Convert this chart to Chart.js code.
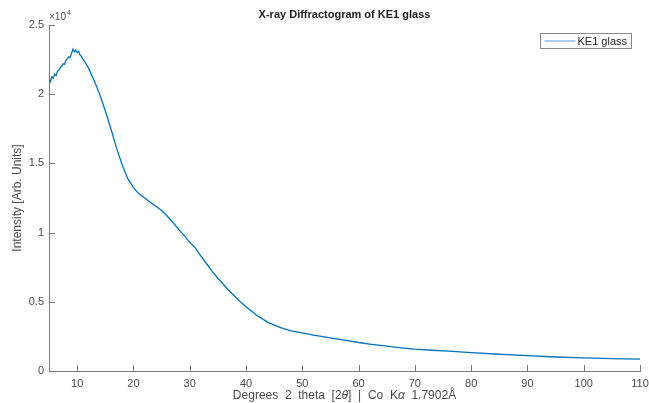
<!DOCTYPE html>
<html>
<head>
<meta charset="utf-8">
<script src="https://cdn.jsdelivr.net/npm/chart.js@4"></script>
<style>
  html, body { margin: 0; padding: 0; background: #fff; }
  #wrap { width: 649px; height: 403px; }
</style>
</head>
<body>
<div id="wrap"><canvas id="xrd" width="649" height="403"></canvas></div>
<script>
// 2 theta (degrees) and intensity (counts)
const twoTheta = [5, 5.25, 5.5, 5.75, 6, 6.25, 6.5, 6.75, 7, 7.25, 7.5, 7.75, 8, 8.25, 8.5, 8.75, 9, 9.25, 9.5, 9.75,
  10, 10.25, 10.5, 10.75, 11, 11.5, 12, 12.5, 13, 14, 15, 16, 17, 18, 19, 20, 21, 22, 23, 24, 25, 26, 27, 28, 29, 30,
  31, 32, 33, 34, 35, 36, 37, 38, 39, 40, 42, 44, 46, 48, 50, 52, 55, 58, 60, 62, 65, 68, 70, 73, 76, 80, 85, 90, 95,
  100, 105, 110];
const intensity = [21100, 20900, 21250, 21150, 21450, 21350, 21650, 21750, 21900, 22050, 22200, 22150, 22450, 22550,
  22700, 22650, 22950, 23250, 23050, 23200, 23000, 23100, 22850, 22750, 22550, 22250, 21900, 21450, 21000, 20000,
  18800, 17500, 16100, 14900, 13900, 13250, 12800, 12500, 12200, 11900, 11600, 11200, 10750, 10250, 9800, 9300,
  8900, 8300, 7750, 7200, 6700, 6250, 5800, 5400, 5000, 4650, 4000, 3500, 3150, 2900, 2750, 2600, 2400, 2200, 2060,
  1940, 1790, 1660, 1580, 1500, 1430, 1330, 1210, 1110, 1010, 950, 900, 860];
const xTicks = [10, 20, 30, 40, 50, 60, 70, 80, 90, 100, 110];
const yTicks = [0, 5000, 10000, 15000, 20000, 25000];
const seriesName = 'KE1 glass';
const chartTitle = 'X-ray Diffractogram of KE1 glass';

const lineBlue = '#0072BD';
const axisGray = '#7a7a7a';
const textGray = '#4a4a4a';
const fontFam = '"Liberation Sans", Arial, sans-serif';

const points = twoTheta.map((t, i) => ({ x: t, y: intensity[i] }));

// MATLAB style decorations: inward ticks, title, exponent, legend box, axis labels
const matlabDecor = {
  id: 'matlabDecor',
  afterDraw(chart) {
    const ctx = chart.ctx;
    const a = chart.chartArea;
    const xs = chart.scales.x, ys = chart.scales.y;
    ctx.save();
    ctx.strokeStyle = axisGray;
    ctx.lineWidth = 1;
    ctx.beginPath();
    xTicks.forEach(t => {
      const px = Math.round(xs.getPixelForValue(t)) + 0.5;
      ctx.moveTo(px, a.bottom);
      ctx.lineTo(px, a.bottom - 6);
    });
    yTicks.forEach(t => {
      const py = Math.round(ys.getPixelForValue(t)) + 0.5;
      ctx.moveTo(a.left, py);
      ctx.lineTo(a.left + 6, py);
    });
    ctx.stroke();

    // title
    ctx.fillStyle = '#222';
    ctx.font = 'bold 11px ' + fontFam;
    ctx.textAlign = 'center';
    ctx.textBaseline = 'middle';
    ctx.fillText(chartTitle, (a.left + a.right) / 2, 15);

    // exponent
    ctx.fillStyle = textGray;
    ctx.textAlign = 'left';
    ctx.font = '10px ' + fontFam;
    ctx.fillText('\u00d710', a.left, 17);
    ctx.font = '7px ' + fontFam;
    ctx.fillText('4', a.left + 18, 13);

    // y label
    ctx.save();
    ctx.translate(18, (a.top + a.bottom) / 2);
    ctx.rotate(-Math.PI / 2);
    ctx.textAlign = 'center';
    ctx.font = '12px ' + fontFam;
    ctx.fillText('Intensity [Arb. Units]', 0, 0);
    ctx.restore();

    // x label with italic greek
    const parts = [
      ['Degrees  2  theta  [2', ''], ['\u03b8', 'italic '], [']  |  Co  K', ''], ['\u03b1', 'italic '], ['  1.7902\u00c5', '']
    ];
    let total = 0;
    parts.forEach(p => { ctx.font = p[1] + '12px ' + fontFam; total += ctx.measureText(p[0]).width; });
    let cx = (a.left + a.right) / 2 - total / 2;
    ctx.textAlign = 'left';
    parts.forEach(p => {
      ctx.font = p[1] + '12px ' + fontFam;
      ctx.fillText(p[0], cx, 396);
      cx += ctx.measureText(p[0]).width;
    });

    // legend box
    const bx = 540.5, by = 33.5, bw = 91, bh = 15;
    ctx.fillStyle = '#fff';
    ctx.fillRect(bx, by, bw, bh);
    ctx.strokeStyle = '#8a8a8a';
    ctx.strokeRect(bx, by, bw, bh);
    ctx.strokeStyle = '#5aa0dc';
    ctx.beginPath();
    ctx.moveTo(bx + 4, by + bh / 2);
    ctx.lineTo(bx + 35, by + bh / 2);
    ctx.stroke();
    ctx.fillStyle = '#222';
    ctx.font = '11px ' + fontFam;
    ctx.fillText(seriesName, bx + 37, by + bh / 2 + 0.5);
    ctx.restore();
  }
};

new Chart(document.getElementById('xrd').getContext('2d'), {
  type: 'line',
  data: {
    datasets: [{
      label: seriesName,
      data: points,
      borderColor: lineBlue,
      borderWidth: 1.3,
      pointRadius: 0,
      tension: 0,
      fill: false
    }]
  },
  options: {
    responsive: false,
    animation: false,
    layout: { padding: { top: 25, right: 9, left: 0, bottom: 0 } },
    plugins: {
      legend: { display: false },
      title: { display: false },
      tooltip: { enabled: false }
    },
    scales: {
      x: {
        type: 'linear',
        min: 5,
        max: 110,
        afterBuildTicks: s => { s.ticks = xTicks.map(v => ({ value: v })); },
        afterFit: s => { s.height = 32; s.paddingRight = 0; },
        grid: { display: false, drawTicks: false },
        border: { display: true, color: axisGray, width: 1 },
        ticks: {
          color: textGray,
          padding: 6,
          maxRotation: 0,
          font: { family: fontFam, size: 11 }
        }
      },
      y: {
        min: 0,
        max: 25000,
        afterBuildTicks: s => { s.ticks = yTicks.map(v => ({ value: v })); },
        afterFit: s => { s.width = 49; },
        grid: { display: false, drawTicks: false },
        border: { display: true, color: axisGray, width: 1 },
        ticks: {
          color: textGray,
          padding: 5,
          font: { family: fontFam, size: 11 },
          callback: v => String(v / 10000)
        }
      }
    }
  },
  plugins: [matlabDecor]
});
</script>
</body>
</html>
